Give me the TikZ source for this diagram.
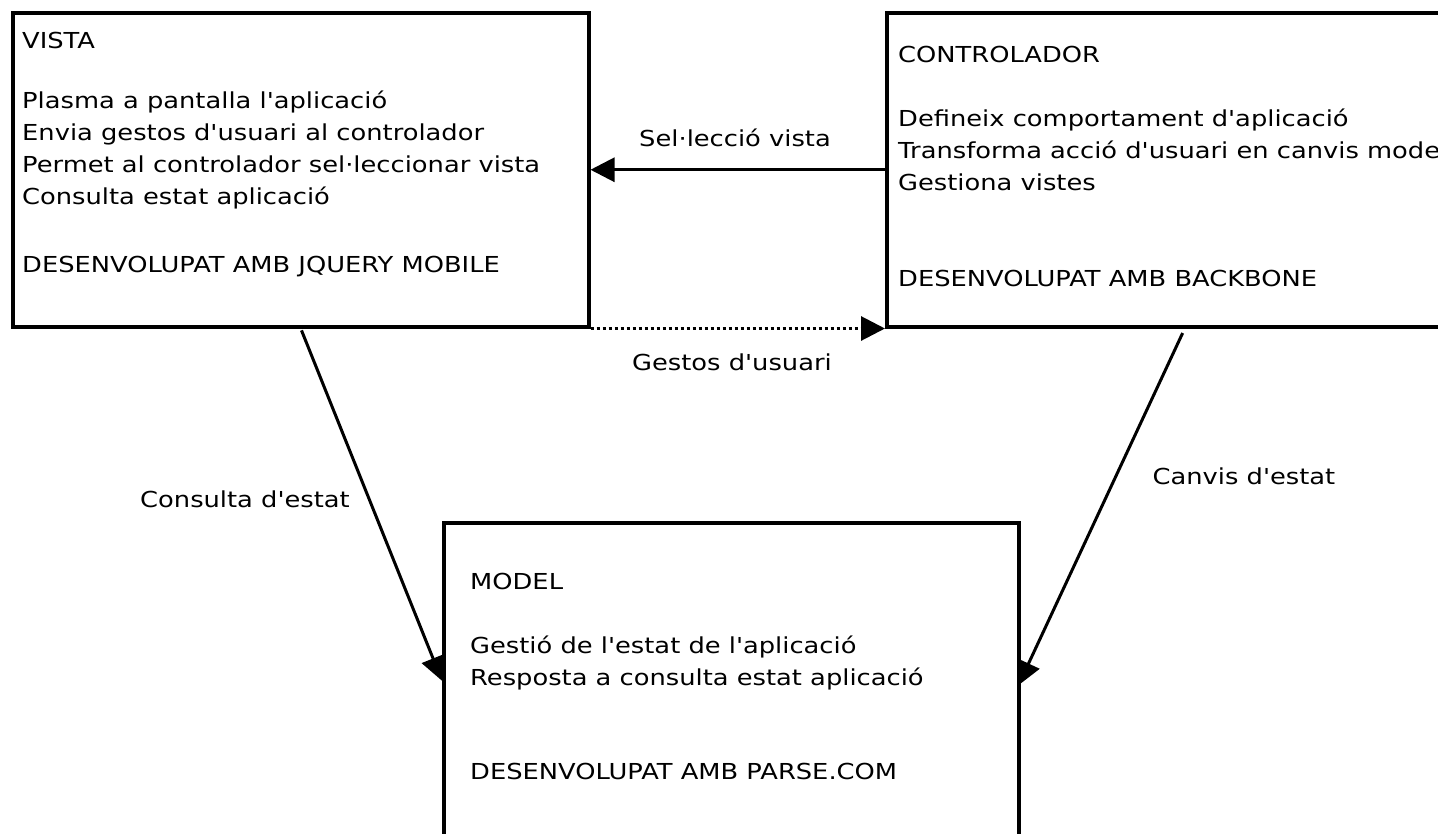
\documentclass[tikz,border=0pt]{standalone}
\usepackage{fontspec}
\setmainfont{DejaVu Sans}[Ligatures=TeXOff, FakeStretch=1.17]
\usetikzlibrary{arrows.meta}

\begin{document}
\begin{tikzpicture}[x=1pt, y=-1pt,
      panel/.style ={draw, line width=3.5pt, anchor=north west, inner sep=0pt},
      line/.style ={anchor=base west, inner sep=0pt, font=\fontsize{22}{26}\selectfont},
      label/.style ={anchor=base, inner sep=0pt, font=\fontsize{22}{26}\selectfont},
      flow/.style ={line width=3pt, -{Triangle[length=24pt, width=24pt]}}]

   \useasboundingbox (0,0) rectangle (1438,833);

   % boxes
   \node[panel, minimum width=576pt, minimum height=314pt] (vista) at (11,11) {};
   \node[panel, minimum width=596pt, minimum height=314pt] (ctrl)  at (885,11) {};
   \node[panel, minimum width=575pt, minimum height=316pt] (model) at (442,521) {};

   % vista
   \node[line] (V1) at (22,48)  {VISTA};
   \node[line] (V2) at (22,108) {Plasma a pantalla l'aplicació};
   \node[line] (V3) at (22,140) {Envia gestos d'usuari al controlador};
   \node[line] (V4) at (22,172) {Permet al controlador sel·leccionar vista};
   \node[line] (V5) at (22,204) {Consulta estat aplicació};
   \node[line] (V6) at (22,272) {DESENVOLUPAT AMB JQUERY MOBILE};

   % controlador
   \node[line] (C1) at (898,62)  {CONTROLADOR};
   \node[line] (C2) at (898,126) {Defineix comportament d'aplicació};
   \node[line] (C3) at (898,158) {Transforma acció d'usuari en canvis model};
   \node[line] (C4) at (898,190) {Gestiona vistes};
   \node[line] (C5) at (898,286) {DESENVOLUPAT AMB BACKBONE};

   % model
   \node[line] (M1) at (470,589) {MODEL};
   \node[line] (M2) at (470,653) {Gestió de l'estat de l'aplicació};
   \node[line] (M3) at (470,685) {Resposta a consulta estat aplicació};
   \node[line] (M4) at (470,779) {DESENVOLUPAT AMB PARSE.COM};

   \node[label] (sel)      at (735,146)  {Sel·lecció vista};
   \node[label] (gestos)   at (732,370)  {Gestos d'usuari};
   \node[label] (consulta) at (245,507)  {Consulta d'estat};
   \node[label] (canvis)   at (1244,484) {Canvis d'estat};

   \draw[flow] (ctrl.west) to (vista.east);
   \draw[flow, dash pattern=on 3pt off 3pt] (vista.south east) to (ctrl.south west);
   \draw[flow, shorten <=2pt] (vista.south) to (model.west);
   \draw[flow, shorten <=5pt, shorten >=-5pt] (ctrl.south) to (model.east);

 \end{tikzpicture}
\end{document}
